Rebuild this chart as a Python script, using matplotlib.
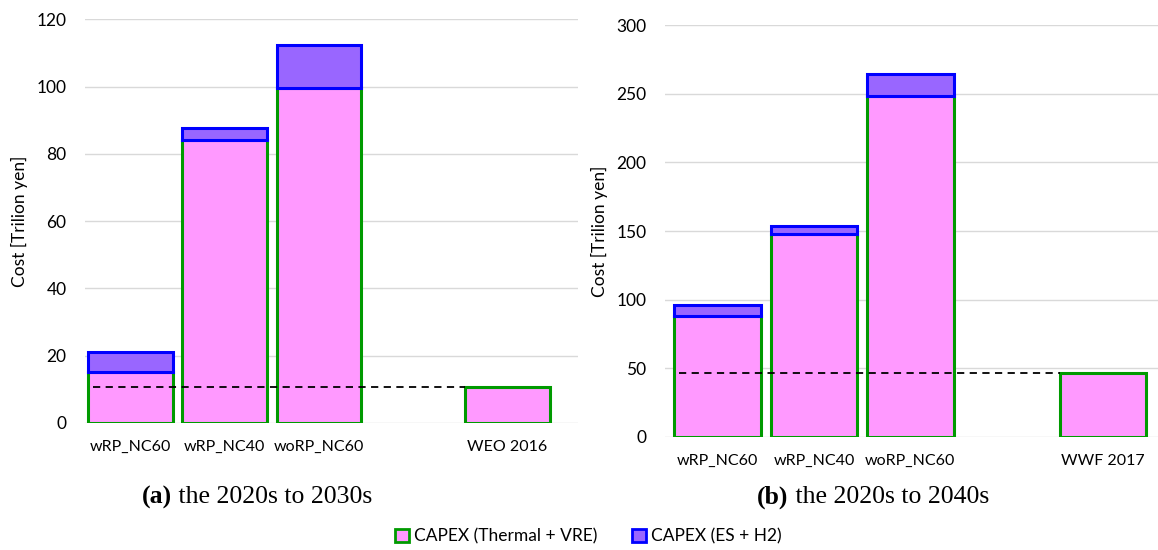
import matplotlib

matplotlib.use("Agg")
import matplotlib.pyplot as plt
from matplotlib.patches import Patch

# panel (a): the 2020s to 2030s
cats_a = ["wRP_NC60", "wRP_NC40", "woRP_NC60", "", "WEO 2016"]
capex_vre_a = [15.0, 84.2, 99.6, 0.0, 10.7]
capex_es_a = [6.0, 3.4, 12.7, 0.0, 0.0]
ref_a = 10.6

# panel (b): the 2020s to 2040s
cats_b = ["wRP_NC60", "wRP_NC40", "woRP_NC60", "", "WWF 2017"]
capex_vre_b = [87.8, 148.0, 248.0, 0.0, 46.5]
capex_es_b = [8.6, 6.0, 16.0, 0.0, 0.0]
ref_b = 46.3

PINK = "#FF99FF"
GREEN = "#009A00"
PURPLE = "#9966FF"
BLUE = "#0000FF"
TICK_FONT = ["Lato", "DejaVu Sans"]
SERIF = "Liberation Serif"

fig = plt.figure(figsize=(11.58, 5.5), dpi=100)
ax_a = fig.add_axes([0.073, 0.231, 0.426, 0.734])
ax_b = fig.add_axes([0.574, 0.2055, 0.426, 0.749])


def draw_panel(ax, cats, vre, es, ref, ymax, ystep, xlim):
    x = list(range(len(cats)))
    show = [c != "" for c in cats]
    for i in x:
        if not show[i]:
            continue
        ax.bar(i, vre[i], width=0.9, color=PINK, edgecolor=GREEN, linewidth=2.2, zorder=2)
        if es[i] > 0:
            ax.bar(i, es[i], bottom=vre[i], width=0.9, color=PURPLE,
                   edgecolor=BLUE, linewidth=2.2, zorder=3)
    # dashed reference level, from the first bar to the reference bar
    ax.plot([-0.4, 3.55], [ref, ref], color="black", linestyle=(0, (4, 3)),
            linewidth=1.3, zorder=4)
    ax.set_xlim(*xlim)
    ax.set_ylim(0, ymax)
    ax.set_yticks(range(0, ymax + 1, ystep))
    ax.set_xticks([i for i in x if show[i]])
    ax.set_xticklabels([c for c in cats if c], family=TICK_FONT, fontsize=11.5)
    for lab in ax.get_yticklabels():
        lab.set_family(TICK_FONT)
        lab.set_fontsize(12.5)
    ax.yaxis.grid(True, color="#D9D9D9", linewidth=1.0, zorder=0)
    ax.set_axisbelow(True)
    for s in ax.spines.values():
        s.set_visible(False)
    ax.tick_params(axis="x", length=0, pad=12)
    ax.tick_params(axis="y", length=0, pad=13)
    ax.set_ylabel("Cost [Trilion yen]", family=TICK_FONT, fontsize=12.5, labelpad=6)


draw_panel(ax_a, cats_a, capex_vre_a, capex_es_a, ref_a, 120, 20, (-0.49, 4.75))
draw_panel(ax_b, cats_b, capex_vre_b, capex_es_b, ref_b, 300, 50, (-0.55, 4.57))


def caption(xc, tag, rest):
    # bold tag + regular text, centred together
    t1 = fig.text(0, 0.096, tag, ha="left", va="center", family=SERIF,
                  fontweight="bold", fontsize=18.5)
    t2 = fig.text(0, 0.096, " " + rest, ha="left", va="center", family=SERIF,
                  fontsize=18.5)
    fig.canvas.draw()
    r = fig.canvas.get_renderer()
    w1 = t1.get_window_extent(r).width
    w2 = t2.get_window_extent(r).width
    x0 = xc * fig.bbox.width - (w1 + w2) / 2
    t1.set_x(x0 / fig.bbox.width)
    t2.set_x((x0 + w1) / fig.bbox.width)


caption(0.222, "(a)", "the 2020s to 2030s")
caption(0.754, "(b)", "the 2020s to 2040s")

handles = [
    Patch(facecolor=PINK, edgecolor=GREEN, linewidth=2, label="CAPEX (Thermal + VRE)"),
    Patch(facecolor=PURPLE, edgecolor=BLUE, linewidth=2, label="CAPEX (ES + H2)"),
]
fig.legend(handles=handles, loc="center", bbox_to_anchor=(0.508, 0.024), ncol=2,
           frameon=False, prop={"family": TICK_FONT, "size": 12.5},
           handlelength=0.8, handleheight=0.8, handletextpad=0.3, columnspacing=2.0)

fig.savefig("out.png", dpi=100)
